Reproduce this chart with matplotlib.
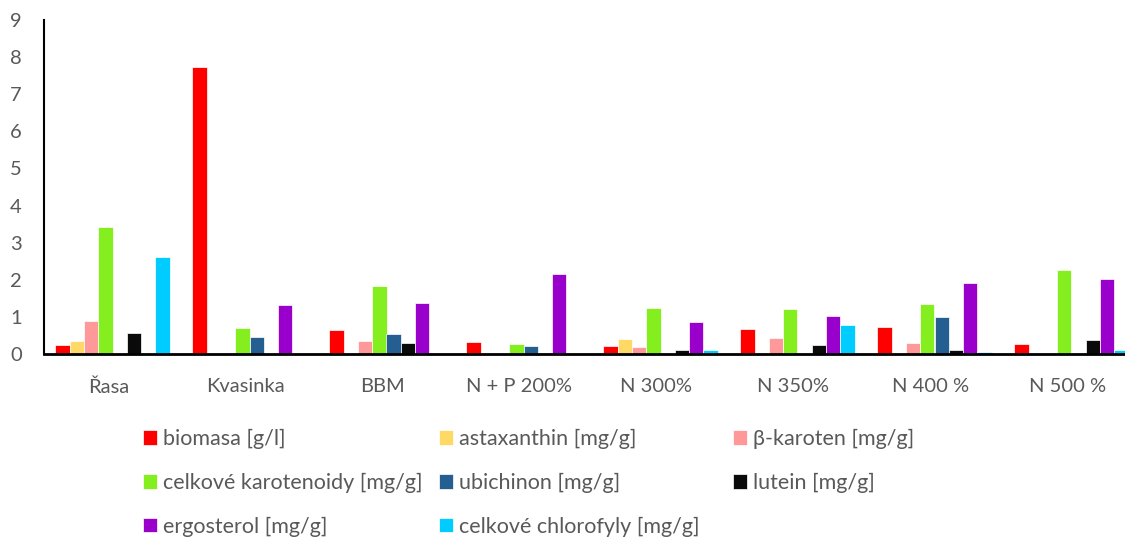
import matplotlib
matplotlib.use("Agg")
import matplotlib.pyplot as plt
import numpy as np

categories = ["Řasa", "Kvasinka", "BBM", "N + P 200%", "N 300%", "N 350%", "N 400 %", "N 500 %"]
series_names = ["biomasa [g/l]", "astaxanthin [mg/g]", "β-karoten [mg/g]",
                "celkové karotenoidy [mg/g]", "ubichinon [mg/g]", "lutein [mg/g]",
                "ergosterol [mg/g]", "celkové chlorofyly [mg/g]"]
biomasa     = [0.24, 7.74, 0.65, 0.32, 0.21, 0.67, 0.72, 0.26]
astaxanthin = [0.35, 0.00, 0.00, 0.00, 0.41, 0.00, 0.00, 0.00]
b_karoten   = [0.89, 0.02, 0.35, 0.00, 0.19, 0.44, 0.30, 0.00]
karotenoidy = [3.43, 0.69, 1.84, 0.26, 1.25, 1.22, 1.36, 2.26]
ubichinon   = [0.00, 0.47, 0.54, 0.22, 0.00, 0.00, 0.99, 0.00]
lutein      = [0.57, 0.00, 0.29, 0.03, 0.10, 0.23, 0.10, 0.38]
ergosterol  = [0.00, 1.31, 1.37, 2.15, 0.86, 1.02, 1.91, 2.02]
chlorofyly  = [2.61, 0.00, 0.00, 0.00, 0.11, 0.78, 0.05, 0.11]
y_ticks = [0, 1, 2, 3, 4, 5, 6, 7, 8, 9]

series = [biomasa, astaxanthin, b_karoten, karotenoidy, ubichinon, lutein, ergosterol, chlorofyly]
colors = ["#FF0000", "#FFD966", "#FF9999", "#85EE1E", "#255E91", "#0A0A0A", "#9900CC", "#00CCFF"]

plt.rcParams['font.family'] = ['Lato', 'DejaVu Sans']
txt = "#595959"

W, H = 1125, 539
fig = plt.figure(figsize=(W/100, H/100), dpi=100)
ax_left, ax_right = 44, 1125
ax_bottom, ax_top = 354, 20
ax = fig.add_axes([ax_left/W, 1 - ax_bottom/H, (ax_right-ax_left)/W, (ax_bottom-ax_top)/H])

x = np.arange(len(categories))
n = len(series)
group_px = 137.0
bw = 14.3 / group_px
handles = []
for i, (vals, c, name) in enumerate(zip(series, colors, series_names)):
    offs = (i - (n - 1) / 2) * bw
    b = ax.bar(x + offs, vals, width=bw, color=c, edgecolor="white", linewidth=0.5, label=name)
    handles.append(b)

ax.set_ylim(0, 9)
ax.set_yticks(y_ticks)
ax.set_xlim(-0.5, -0.5 + (ax_right - ax_left) / group_px)
ax.set_xticks(x - 0.03)
ax.set_xticklabels(categories)
ax.tick_params(axis='both', length=0, labelsize=14.5, colors=txt)
ax.tick_params(axis='y', pad=16)
ax.tick_params(axis='x', pad=17.5)
for s in ["top", "right"]:
    ax.spines[s].set_visible(False)
ax.spines["left"].set_color("black")
ax.spines["left"].set_linewidth(1.5)
ax.spines["bottom"].set_color("black")
ax.spines["bottom"].set_linewidth(2)

# Legend: three columns, placed like the original
cols = [[0, 3, 6], [1, 4, 7], [2, 5]]
col_x = [143, 439, 733]
for cidx, xs in zip(cols, col_x):
    leg = fig.legend([handles[k] for k in cidx], [series_names[k] for k in cidx],
                     loc="upper left", bbox_to_anchor=(xs / W, 1 - 429 / H),
                     frameon=False, fontsize=15.5, handlelength=0.65, handleheight=0.65,
                     handletextpad=0.3, labelspacing=1.1, borderpad=0, borderaxespad=0)
    for t in leg.get_texts():
        t.set_color(txt)

fig.savefig("out.png", dpi=100)
